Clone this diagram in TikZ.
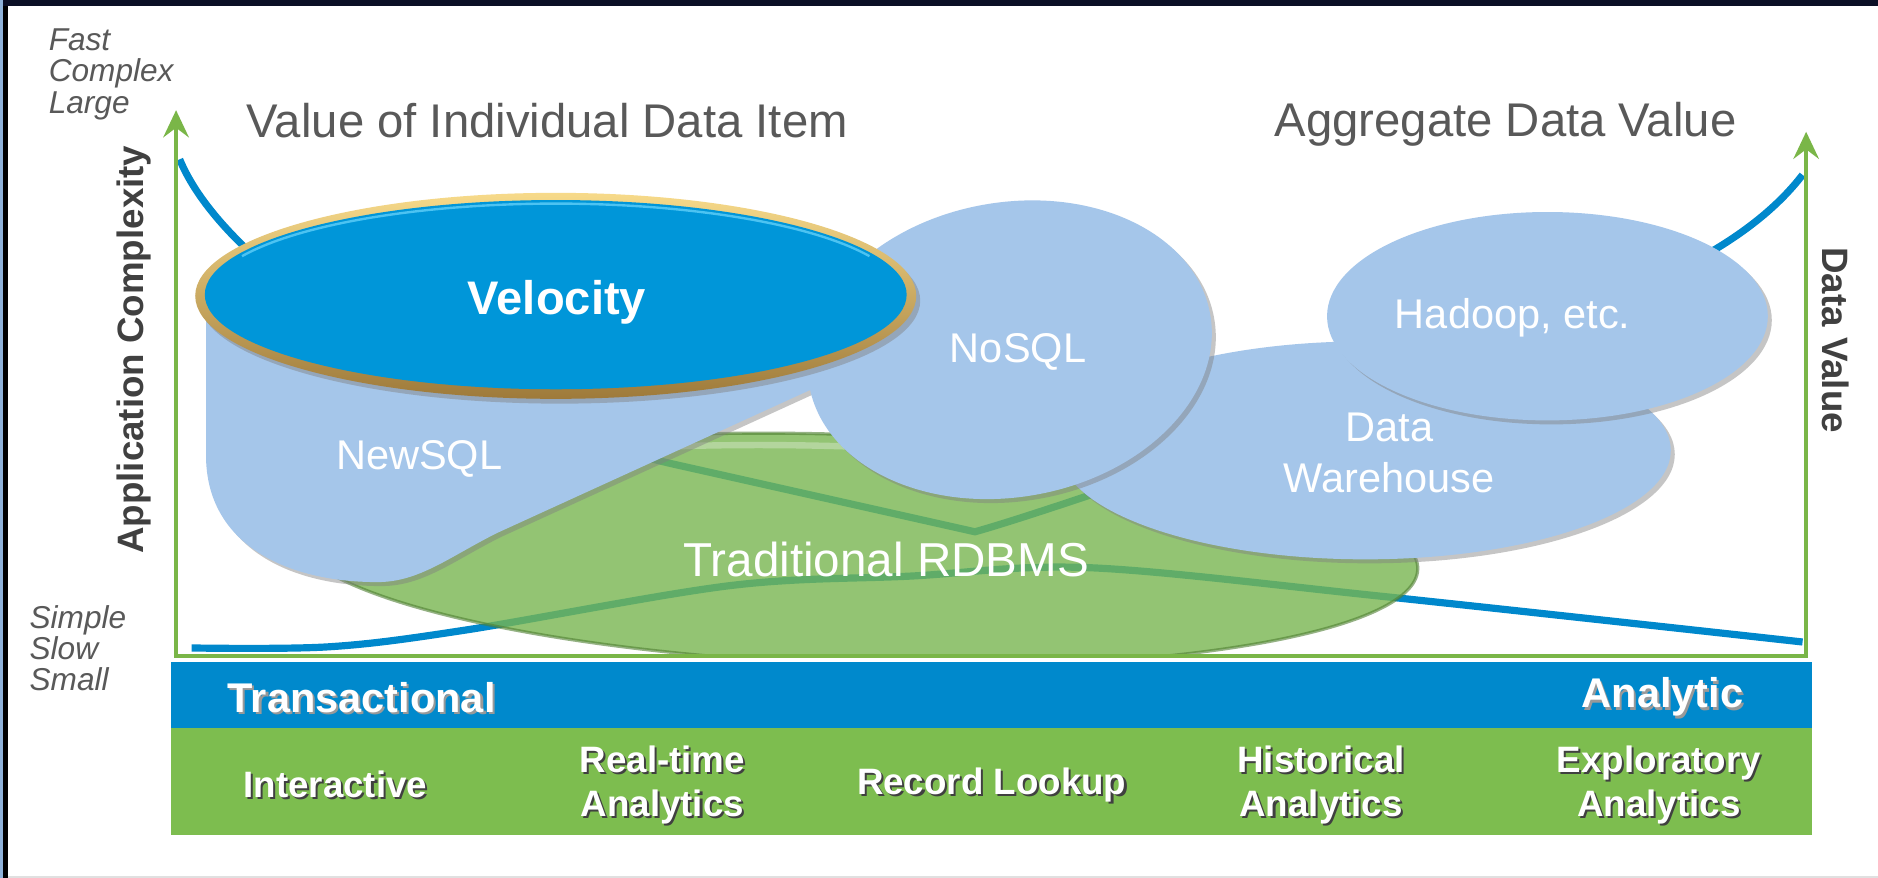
\documentclass[tikz,border=0pt]{standalone}
\usepackage{fontspec}
\setmainfont{Liberation Sans}
\usetikzlibrary{shapes.geometric, arrows, arrows.meta, shadows}

\definecolor{framenavy}{HTML}{0B0F26}
\definecolor{edgeblue}{HTML}{8FB2D9}
\definecolor{paleblue}{HTML}{A5C6EA}
\definecolor{velblue}{HTML}{0096D9}
\definecolor{velhigh}{HTML}{4CC3F2}
\definecolor{goldlight}{HTML}{F7DA8A}
\definecolor{golddark}{HTML}{9E7A3A}
\definecolor{rdbmsgreen}{HTML}{78B650}
\definecolor{rdbmsedge}{HTML}{4F7F33}
\definecolor{trendblue}{HTML}{0088CC}
\definecolor{axisgreen}{HTML}{7AB648}
\definecolor{bandblue}{HTML}{0089CC}
\definecolor{bandgreen}{HTML}{7DBD4F}
\definecolor{labelgray}{HTML}{595959}
\definecolor{axisgray}{HTML}{404040}

\newcommand{\txtshadow}[2][black!75]{\makebox[0pt][l]{\kern1.3pt\raisebox{-1.3pt}{\textcolor{#1}{#2}}}#2}

\tikzstyle{heading} = [text=labelgray, font=\fontsize{29.6}{34}\selectfont]
\tikzstyle{cornernote} = [text=labelgray, anchor=west, align=left, font=\fontsize{19.8}{19.5}\selectfont\itshape]
\tikzstyle{axislabel} = [text=axisgray, font=\fontsize{23}{27}\selectfont\bfseries]
\tikzstyle{blob} = [fill=paleblue, drop shadow={opacity=0.45, shadow xshift=2.5pt, shadow yshift=-2.5pt}]
\tikzstyle{blobtext} = [text=white, align=center, font=\fontsize{26}{32}\selectfont]
\tikzstyle{bandtext} = [text=white, font=\fontsize{26}{30}\selectfont\bfseries]
\tikzstyle{usecase} = [text=white, align=center, font=\fontsize{23}{27.5}\selectfont\bfseries]
\tikzstyle{axisframe} = [draw=axisgreen, line width=2.4pt, <->, >={Stealth[length=17pt, width=16pt, inset=6pt]}]
\tikzstyle{trend} = [draw=trendblue, line width=4.5pt, line join=round]

\begin{document}
\begin{tikzpicture}[x=0.75pt, y=-0.75pt]
\useasboundingbox (0,0) rectangle (1568,733);

% Slide frame
\fill[white] (0,0) rectangle (1568,733);
\fill[framenavy] (0,0) rectangle (1568,5);
\fill[edgeblue] (0,0) rectangle (2.5,733);
\fill[black] (2.5,5) rectangle (6.7,733);
\fill[black!12] (6.7,731.5) rectangle (1568,733);

% Bands
\fill[bandblue] (143,553) rectangle (1513,608);
\fill[bandgreen] (143,608) rectangle (1513,697);

% Trend curves
\draw[trend] (150,133) .. controls (190,230) and (380,345) .. (560,387) -- (814,444) .. controls (900,420) and (1330,270) .. (1434,207) .. controls (1465,188) and (1488,168) .. (1505,146);
\draw[trend] plot[smooth, tension=0.55] coordinates {(160,541) (275,540) (389,526) (609,489) (760,481) (910,474) (1155,498) (1505,536)};

% Traditional RDBMS
\begin{scope}
\clip (143,0) rectangle (1513,548);
\begin{scope}[rotate around={-2:(714,459)}]
\fill[rdbmsgreen, opacity=0.8] (714,459) ellipse [x radius=470, y radius=96];
\draw[rdbmsedge, opacity=0.6, line width=2pt] (714,459) ellipse [x radius=470, y radius=96];
\draw[white, opacity=0.3, line width=4pt] ([shift={(215:458 and 86)}]714,459) arc [start angle=215, end angle=325, x radius=458, y radius=86];
\end{scope}
\end{scope}

% Blue shapes
\fill[blob] (1140,376) ellipse [x radius=255, y radius=91];
\fill[blob] (1292,264) ellipse [x radius=184, y radius=87];
\fill[blob] (172,250) -- (172,380) .. controls (172,455) and (240,486) .. (315,486) .. controls (350,486) and (375,465) .. (415,445) -- (750,292) -- (465,250) -- cycle;
\fill[blob, rotate around={10:(843,292)}] (843,292) ellipse [x radius=170, y radius=123];

% Velocity
\shade[top color=goldlight, bottom color=golddark, drop shadow={opacity=0.45, shadow xshift=2.5pt, shadow yshift=-3pt}] (464,247) ellipse [x radius=301, y radius=86];
\fill[velblue] (464,246) ellipse [x radius=293, y radius=79];
\draw[velhigh, line width=1.5pt] ([shift={(205:289 and 76)}]464,246) arc [start angle=205, end angle=335, x radius=289, y radius=76];

% Axes
\draw[axisframe] (147,92) -- (147,548) -- (1508,548) -- (1508,110);

% Nodes
\node[cornernote] (fastnote) at (36,62) {Fast\\Complex\\Large};
\node[cornernote] (slownote) at (20,541) {Simple\\Slow\\Small};
\node[heading] (valuetitle) at (457,100.5) {Value of Individual Data Item};
\node[heading] (aggtitle) at (1257,104) {Aggregate Data Value};
\node[axislabel, rotate=90] (appcomplex) at (112,292) {Application Complexity};
\node[axislabel, rotate=-90] (datavalue) at (1533,284) {Data Value};

\node[blobtext, font=\fontsize{29.5}{34}\selectfont\bfseries] (velocitytxt) at (465,252) {Velocity};
\node[blobtext] (newsqltxt) at (350,383) {NewSQL};
\node[blobtext] (nosqltxt) at (850,294) {NoSQL};
\node[blobtext] (dwtxt) at (1160,378) {Data\\Warehouse};
\node[blobtext] (hadooptxt) at (1263,265) {Hadoop, etc.};
\node[blobtext, font=\fontsize{29.8}{34}\selectfont] (rdbmstxt) at (740,467) {Traditional RDBMS};

\node[bandtext] (transact) at (302,583) {\txtshadow[black!40]{Transactional}};
\node[bandtext] (analytic) at (1388,583) {\txtshadow[black!40]{Analytic}};

\node[usecase] (interactive) at (280,656) {\txtshadow{Interactive}};
\node[usecase] (realtime) at (553,656) {\txtshadow{Real-time}\\\txtshadow{Analytics}};
\node[usecase] (lookup) at (828,656) {\txtshadow{Record Lookup}};
\node[usecase] (historical) at (1103,656) {\txtshadow{Historical}\\\txtshadow{Analytics}};
\node[usecase] (exploratory) at (1385,656) {\txtshadow{Exploratory}\\\txtshadow{Analytics}};

\end{tikzpicture}
\end{document}
